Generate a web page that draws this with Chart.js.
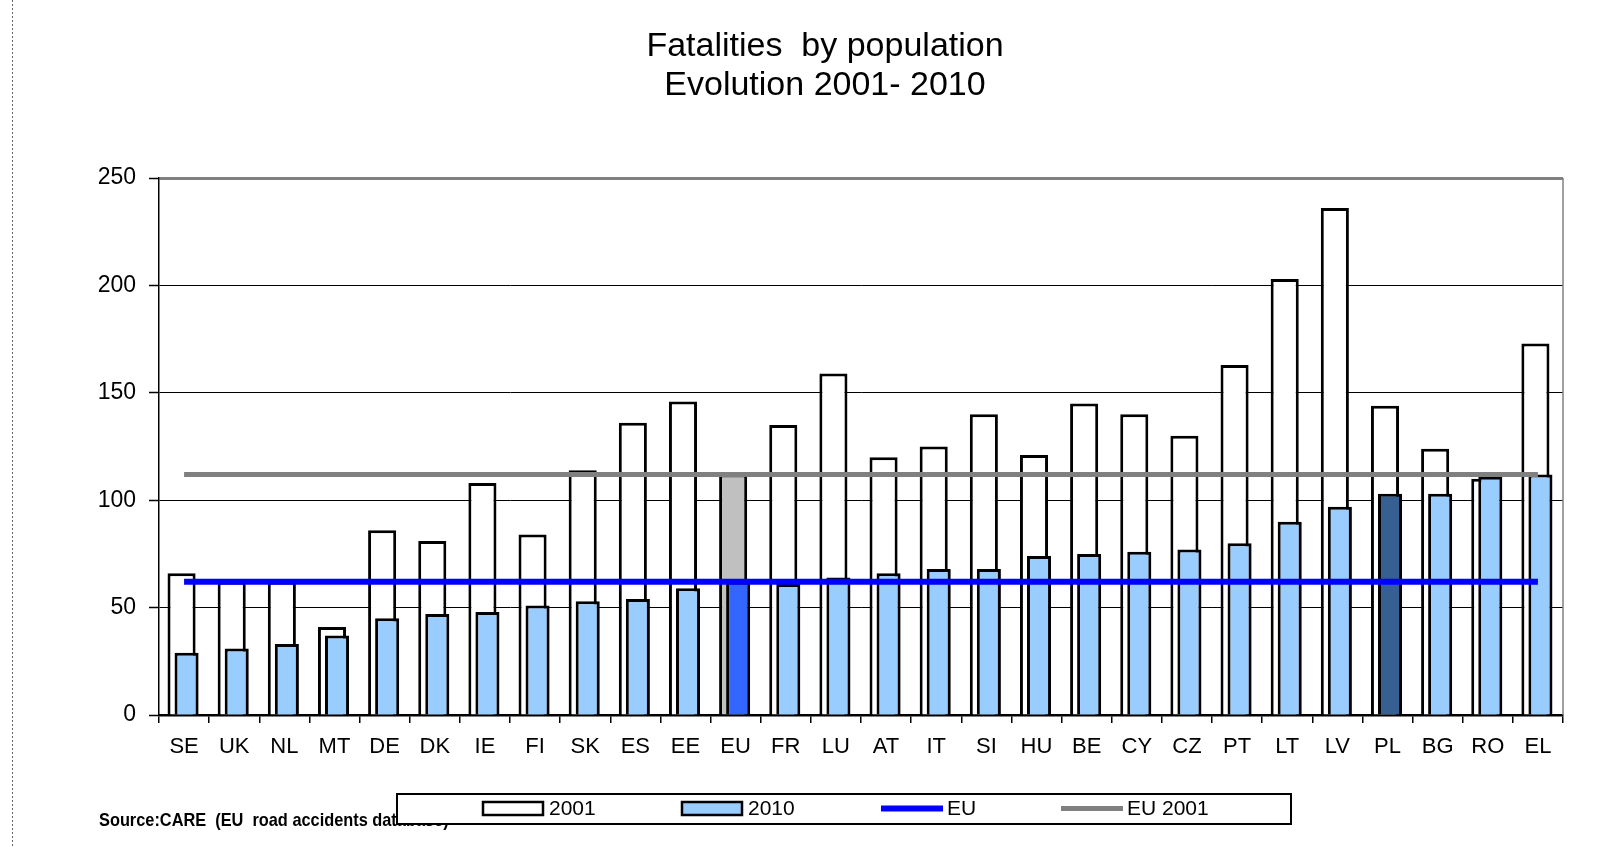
<!DOCTYPE html>
<html>
<head>
<meta charset="utf-8">
<title>Fatalities by population</title>
<script src="https://cdn.jsdelivr.net/npm/chart.js@4.4.1/dist/chart.umd.min.js"></script>
<style>
  html, body { margin: 0; padding: 0; background: #fff; }
  #wrap { width: 1606px; height: 847px; position: relative; }
</style>
</head>
<body>
<div id="wrap"><canvas id="fatalChart"></canvas></div>
<script>
// Countries, ordered by the 2010 rate (EU average kept in its place)
var countries = ['SE', 'UK', 'NL', 'MT', 'DE', 'DK', 'IE', 'FI', 'SK', 'ES', 'EE', 'EU', 'FR', 'LU',
                 'AT', 'IT', 'SI', 'HU', 'BE', 'CY', 'CZ', 'PT', 'LT', 'LV', 'PL', 'BG', 'RO', 'EL'];

// fatalities per million inhabitants
var rate2001 = [66, 62, 62, 41, 86, 81, 108, 84, 114, 136, 146, 112, 135, 159,
                120, 125, 140, 121, 145, 140, 130, 163, 203, 236, 144, 124, 110, 173];
var rate2010 = [29, 31, 33, 37, 45, 47, 48, 51, 53, 54, 59, 62, 61, 64,
                66, 68, 68, 74, 75, 76, 77, 80, 90, 97, 103, 103, 111, 112];

// EU averages drawn as flat lines
var euLine2010 = [62, 62, 62, 62, 62, 62, 62, 62, 62, 62, 62, 62, 62, 62,
                  62, 62, 62, 62, 62, 62, 62, 62, 62, 62, 62, 62, 62, 62];
var euLine2001 = [112, 112, 112, 112, 112, 112, 112, 112, 112, 112, 112, 112, 112, 112,
                  112, 112, 112, 112, 112, 112, 112, 112, 112, 112, 112, 112, 112, 112];

var yTicks = [0, 50, 100, 150, 200, 250];

var titleLines = ['Fatalities  by population', 'Evolution 2001- 2010'];
var sourceNote = 'Source:CARE  (EU  road accidents database)';

var FONT = '"Liberation Sans", Arial, sans-serif';

function fill2001(c) {
    return c === 'EU' ? '#c0c0c0' : '#ffffff';
}
function fill2010(c) {
    if (c === 'EU') return '#3366ff';
    if (c === 'PL') return '#366092';
    return '#99ccff';
}

// Chart.js paints dataset 0 last; here 2010 has to sit over 2001, lines over both
var paintOrder = {
    id: 'paintOrder',
    beforeDatasetsDraw: function (chart) {
        var metas = chart.getSortedVisibleDatasetMetas();
        metas.forEach(function (m) { m.controller.draw(); });
        return false;
    }
};

// legend slots (left x of each key)
var legendSlots = [483, 682, 881, 1061];

var overlay = {
    id: 'overlay',
    afterDraw: function (chart) {
        var ctx = chart.ctx;
        var area = chart.chartArea;
        ctx.save();

        // right edge of the plot
        ctx.strokeStyle = '#808080';
        ctx.lineWidth = 1.5;
        ctx.beginPath();
        ctx.moveTo(area.right, area.top);
        ctx.lineTo(area.right, area.bottom);
        ctx.stroke();

        // dotted page margin on the left
        ctx.strokeStyle = '#666';
        ctx.lineWidth = 1;
        ctx.setLineDash([2, 2]);
        ctx.beginPath();
        ctx.moveTo(12.5, 0);
        ctx.lineTo(12.5, 847);
        ctx.stroke();
        ctx.setLineDash([]);

        // title
        ctx.fillStyle = '#000';
        ctx.textAlign = 'center';
        ctx.textBaseline = 'alphabetic';
        ctx.font = '34px ' + FONT;
        ctx.fillText(titleLines[0], 825, 56);
        ctx.fillText(titleLines[1], 825, 95);

        // source note (partly hidden by the legend box)
        ctx.textAlign = 'left';
        ctx.font = 'bold 19px ' + FONT;
        ctx.save();
        ctx.translate(99, 826);
        ctx.scale(0.86, 1);
        ctx.fillText(sourceNote, 0, 0);
        ctx.restore();

        // legend box
        ctx.fillStyle = '#fff';
        ctx.fillRect(397, 794, 894, 30);
        ctx.strokeStyle = '#000';
        ctx.lineWidth = 2;
        ctx.strokeRect(397, 794, 894, 30);

        ctx.font = '21px ' + FONT;
        ctx.textBaseline = 'middle';
        chart.data.datasets.forEach(function (ds, i) {
            var x = legendSlots[i];
            if (ds.type === 'line') {
                ctx.strokeStyle = ds.borderColor;
                ctx.lineWidth = ds.borderWidth;
                ctx.beginPath();
                ctx.moveTo(x, 808.5);
                ctx.lineTo(x + 62, 808.5);
                ctx.stroke();
            } else {
                ctx.fillStyle = ds.legendColor;
                ctx.fillRect(x, 802, 60, 13);
                ctx.strokeStyle = '#000';
                ctx.lineWidth = 2.5;
                ctx.strokeRect(x, 802, 60, 13);
            }
            ctx.fillStyle = '#000';
            ctx.fillText(ds.label, x + 66, 809);
        });

        ctx.restore();
    }
};

var data = {
    labels: countries,
    datasets: [
        {
            label: '2001',
            data: rate2001,
            backgroundColor: countries.map(fill2001),
            legendColor: '#ffffff',
            borderColor: '#000',
            borderWidth: 3,
            categoryPercentage: 0.2,
            barPercentage: 5.6
        },
        {
            label: '2010',
            data: rate2010,
            backgroundColor: countries.map(fill2010),
            legendColor: '#99ccff',
            borderColor: '#000',
            borderWidth: 3,
            categoryPercentage: 0.2,
            barPercentage: 4.8
        },
        {
            type: 'line',
            label: 'EU',
            data: euLine2010,
            borderColor: '#0000ff',
            borderWidth: 6,
            pointRadius: 0,
            fill: false
        },
        {
            type: 'line',
            label: 'EU 2001',
            data: euLine2001,
            borderColor: '#808080',
            borderWidth: 5,
            pointRadius: 0,
            fill: false
        }
    ]
};

var options = {
    responsive: true,
    maintainAspectRatio: false,
    animation: false,
    devicePixelRatio: 1,
    layout: { padding: { top: 178, right: 43, left: 0, bottom: 0 } },
    plugins: {
        legend: { display: false },
        title: { display: false },
        tooltip: { enabled: false }
    },
    scales: {
        x: {
            z: 1,
            offset: true,
            grid: {
                offset: true,
                drawOnChartArea: false,
                drawTicks: true,
                tickLength: 8,
                color: '#000',
                lineWidth: 1.5
            },
            border: { color: '#000', width: 2.5 },
            ticks: {
                color: '#000',
                padding: 11,
                maxRotation: 0,
                autoSkip: false,
                font: { family: FONT, size: 22 }
            },
            afterFit: function (s) { s.height = 132; }
        },
        y: {
            min: 0,
            max: 250,
            afterBuildTicks: function (s) {
                s.ticks = yTicks.map(function (v) { return { value: v }; });
            },
            grid: {
                color: function (c) { return c.tick && c.tick.value === 250 ? '#808080' : '#000'; },
                lineWidth: function (c) { return c.tick && c.tick.value === 250 ? 3 : 1; },
                tickColor: '#000',
                tickWidth: 1.5,
                tickLength: 10
            },
            border: { color: '#000', width: 1.5 },
            ticks: {
                color: '#000',
                padding: 13,
                font: { family: FONT, size: 23 }
            },
            afterFit: function (s) { s.width = 159; }
        }
    }
};

new Chart(document.getElementById('fatalChart').getContext('2d'), {
    type: 'bar',
    data: data,
    options: options,
    plugins: [paintOrder, overlay]
});
</script>
</body>
</html>
